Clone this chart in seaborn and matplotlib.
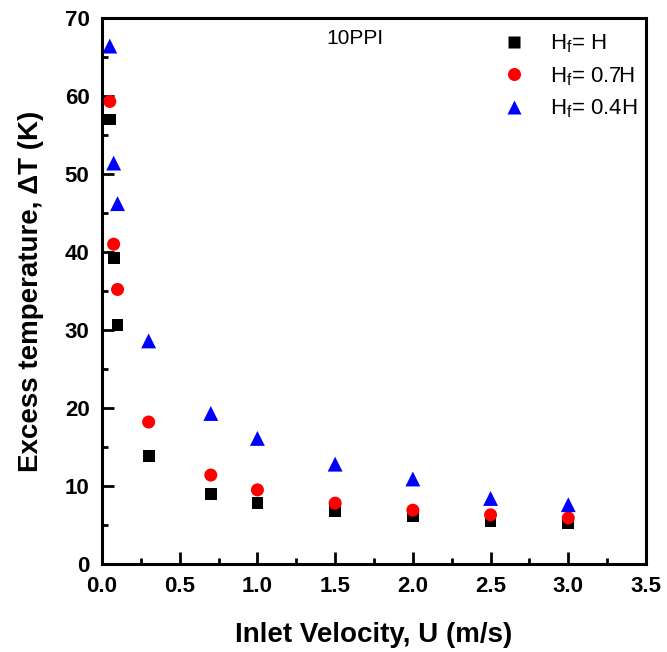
import numpy as np
import pandas as pd
import matplotlib
matplotlib.use("Agg")
import matplotlib.pyplot as plt
import seaborn as sns
from matplotlib.ticker import MultipleLocator

velocity = [0.05, 0.075, 0.1, 0.3, 0.7, 1.0, 1.5, 2.0, 2.5, 3.0]
dT_H = [57.0, 39.2, 30.6, 13.8, 9.0, 7.8, 6.8, 6.1, 5.5, 5.3]
dT_07H = [59.3, 41.0, 35.2, 18.2, 11.4, 9.5, 7.8, 6.9, 6.3, 5.9]
dT_04H = [66.4, 51.4, 46.2, 28.6, 19.3, 16.1, 12.8, 10.9, 8.4, 7.6]
series_labels = [r"H$_\mathregular{f}$= H", r"H$_\mathregular{f}$= 0.7H", r"H$_\mathregular{f}$= 0.4H"]

frames = []
for lab, vals in zip(series_labels, [dT_H, dT_07H, dT_04H]):
    frames.append(pd.DataFrame({"U": velocity, "dT": vals, "series": lab}))
df = pd.concat(frames, ignore_index=True)

sns.set_theme(style="white")
plt.rcParams['font.family'] = ['Liberation Sans', 'DejaVu Sans']
plt.rcParams['mathtext.fontset'] = 'custom'
plt.rcParams['mathtext.rm'] = 'Liberation Sans'
for k in ['text.color', 'axes.labelcolor', 'xtick.color', 'ytick.color', 'axes.edgecolor']:
    plt.rcParams[k] = 'black'

W, H = 667, 652
L, R, T, B = 102, 646, 18, 564
fig = plt.figure(figsize=(W/100, H/100), dpi=100)
ax = fig.add_axes([L/W, 1-B/H, (R-L)/W, (B-T)/H])

palette = {series_labels[0]: "black", series_labels[1]: "red", series_labels[2]: "blue"}
markers = {series_labels[0]: "s", series_labels[1]: "o", series_labels[2]: "^"}
sizes = {series_labels[0]: 72, series_labels[1]: 88, series_labels[2]: 115}
sns.scatterplot(data=df, x="U", y="dT", hue="series", style="series", size="series",
                palette=palette, markers=markers, sizes=sizes, edgecolor="none",
                ax=ax, legend=True)

ax.set_xlim(0, 3.5)
ax.set_ylim(0, 70)
ax.xaxis.set_major_locator(MultipleLocator(0.5))
ax.xaxis.set_minor_locator(MultipleLocator(0.25))
ax.yaxis.set_major_locator(MultipleLocator(10))
ax.yaxis.set_minor_locator(MultipleLocator(5))
ax.tick_params(which="both", direction="in", width=2, color="black",
               top=False, right=False, bottom=True, left=True)
ax.tick_params(which="major", length=8.5, labelsize=16, pad=9)
ax.tick_params(which="minor", length=4.5)
for lbl in ax.get_xticklabels() + ax.get_yticklabels():
    lbl.set_fontweight("bold")
for sp in ax.spines.values():
    sp.set_linewidth(2.2)
    sp.set_color("black")

ax.set_xlabel("Inlet Velocity, U (m/s)", fontsize=20, fontweight="bold")
ax.set_ylabel("Excess temperature, ΔT (K)", fontsize=20, fontweight="bold")
ax.xaxis.set_label_coords(0.5, (B-622)/(B-T))
ax.yaxis.set_label_coords((44-L)/(R-L), 0.5)

ax.text(1.63, 67.4, "10PPI", fontsize=15, ha="center", va="center")

leg = ax.legend(loc="upper right", frameon=False, fontsize=16, markerscale=1.0,
                handletextpad=0.6, labelspacing=0.45, borderaxespad=0.0,
                bbox_to_anchor=(1.0, 0.99))

fig.savefig("out.png", dpi=100)
